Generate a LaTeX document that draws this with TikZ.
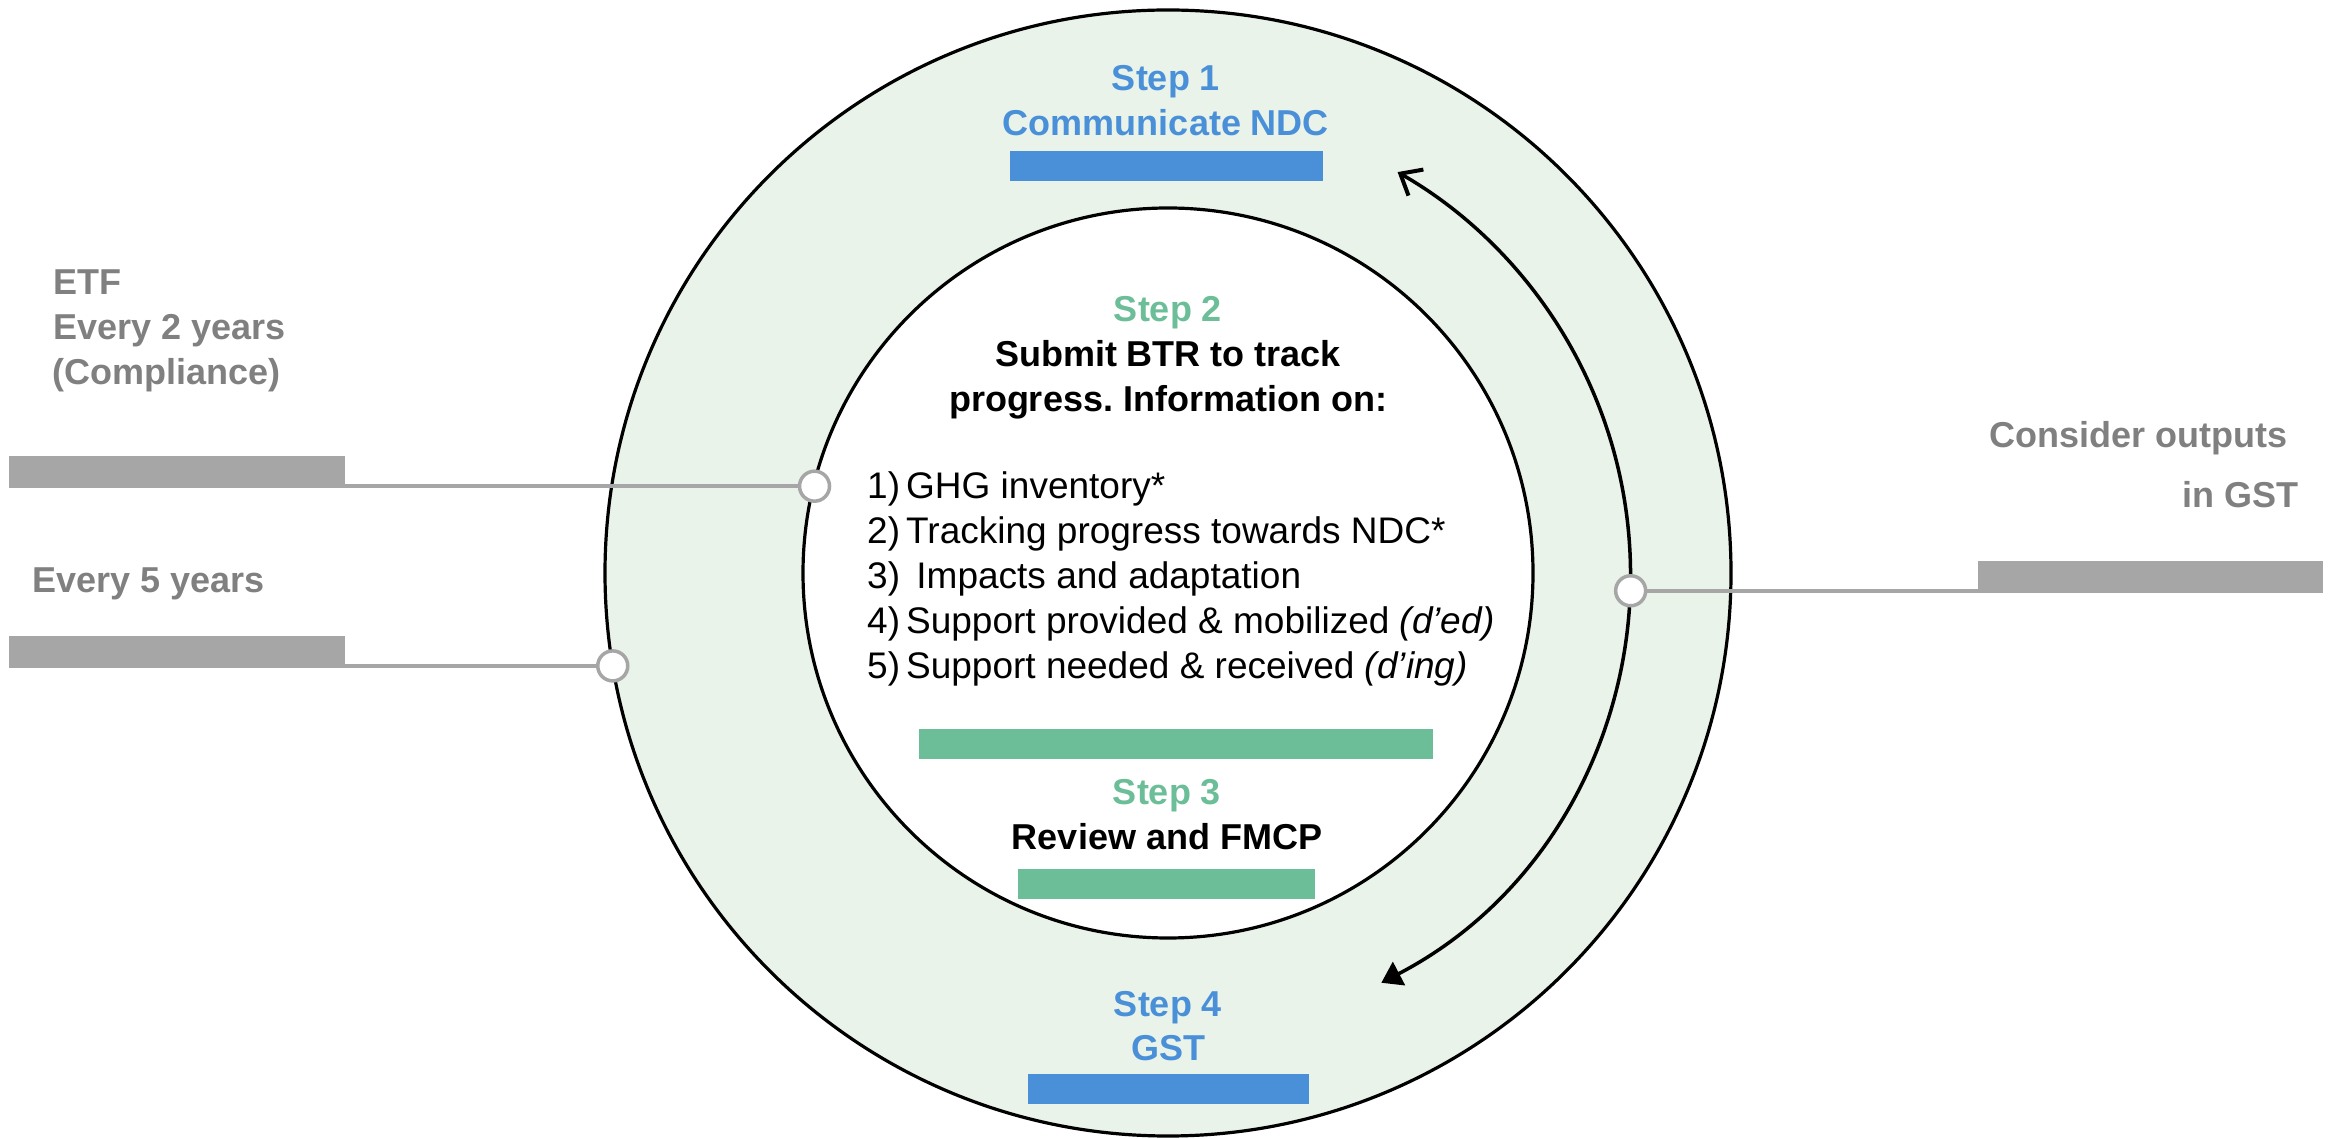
\documentclass[tikz,border=0pt]{standalone}
\usepackage{fontspec}
\setmainfont{Liberation Sans}
\usetikzlibrary{arrows.meta}
\definecolor{ringfill}{HTML}{E9F3EA}
\definecolor{stepblue}{HTML}{4A90D9}
\definecolor{stepgreen}{HTML}{6CBE98}
\definecolor{greytext}{HTML}{808080}
\definecolor{greybar}{HTML}{A6A6A6}
\frenchspacing
\begin{document}
\begin{tikzpicture}[x=1pt,y=1pt,
  bigtxt/.style={font=\fontsize{36}{45}\selectfont\bfseries, inner sep=0pt, anchor=base},
  bluetxt/.style={bigtxt, text=stepblue},
  greentxt/.style={bigtxt, text=stepgreen},
  blacktxt/.style={bigtxt, text=black},
  sidetxt/.style={font=\fontsize{36}{45}\selectfont\bfseries, text=greytext, inner sep=0pt},
  itemtxt/.style={font=\fontsize{37}{45}\selectfont, inner sep=0pt, anchor=base west},
  bar/.style={inner sep=0pt, outer sep=0pt, minimum height=30pt},
  bluebar/.style={bar, fill=stepblue},
  greenbar/.style={bar, fill=stepgreen},
  greybarbox/.style={bar, fill=greybar},
  dot/.style={circle, draw=greybar, fill=white, line width=3.5pt, minimum size=30pt, inner sep=0pt},
  conn/.style={draw=greybar, line width=3.5pt},
  ring/.style={line width=3.2pt, draw=black},
  cyclearrow/.style={line width=3.5pt, {Triangle[length=20pt,width=26pt]}-{Straight Barb[length=18pt,width=30pt,line width=4pt]}}
]
\useasboundingbox (0,0) rectangle (2331,1138);
\coordinate (C) at (1168,565);
\coordinate (L) at (9,0);
\coordinate (R) at (2323,0);

% rings
\fill[ringfill] (C) circle[radius=563];
\draw[ring] (C) circle[radius=563];
\fill[white] (C) circle[radius=365];
\draw[ring] (C) circle[radius=365];

% cycle arrow
\coordinate (abot) at ([shift={(-62.5:462)}]C);
\coordinate (atop) at ([shift={(60.2:462)}]C);
\draw[cyclearrow] (abot) arc[start angle=-62.5, end angle=60.2, radius=462];

% step 1
\node[bluetxt] (s1a) at (1166,1047) {Step 1};
\node[bluetxt] (s1b) at (1166,1002) {Communicate NDC};
\node[bluebar, minimum width=313pt] (bb1) at (1166.5,972) {};

% step 2
\node[greentxt] (s2a) at (1168,816) {Step 2};
\node[blacktxt] (s2b) at (1168,771) {Submit BTR to track};
\node[blacktxt] (s2c) at (1168,726) {progress. Information on:};
\node[itemtxt] (i1) at (867,639) {\makebox[39pt][l]{1)}GHG inventory*};
\node[itemtxt] (i2) at (867,594) {\makebox[39pt][l]{2)}Tracking progress towards NDC*};
\node[itemtxt] (i3) at (867,549) {\makebox[39pt][l]{3)}\ Impacts and adaptation};
\node[itemtxt] (i4) at (867,504) {\makebox[39pt][l]{4)}Support provided \& mobilized \textit{(d’ed)}};
\node[itemtxt] (i5) at (867,459) {\makebox[39pt][l]{5)}Support needed \& received \textit{(d’ing)}};
\node[greenbar, minimum width=514pt] (gb1) at (1176,394) {};

% step 3
\node[greentxt] (s3a) at (1167,333) {Step 3};
\node[blacktxt] (s3b) at (1167,288) {Review and FMCP};
\node[greenbar, minimum width=297pt] (gb2) at (1166.5,254) {};

% step 4
\node[bluetxt] (s4a) at (1168,122) {Step 4};
\node[bluetxt] (s4b) at (1168,78) {GST};
\node[bluebar, minimum width=281pt] (bb2) at (1168.5,49) {};

% side labels
\node[sidetxt, anchor=base west] (etf) at (53,843) {ETF};
\node[sidetxt, anchor=base west] (e2y) at (53,798) {Every 2 years};
\node[sidetxt, anchor=base west] (comp) at (52,753) {(Compliance)};
\node[sidetxt, anchor=base west] (e5y) at (32,545) {Every 5 years};
\node[sidetxt, anchor=base east] (cons) at (2288,690) {Consider outputs};
\node[sidetxt, anchor=base east] (ingst) at (2299,630) {in GST};

% connection dots
\path (C) ++(166.2:364) node[dot] (n1) {};
\path (C) ++(189.5:563) node[dot] (n2) {};
\path (C) ++(-2.2:463) node[dot] (n3) {};

% grey bars
\node[greybarbox, minimum width=336pt, anchor=south west] (g1) at (L |- n1) {};
\node[greybarbox, minimum width=336pt, anchor=south west] (g2) at (L |- n2) {};
\node[greybarbox, minimum width=345pt, anchor=south east] (g3) at (R |- n3) {};

% connectors
\draw[conn] (g1.south west) -- (n1);
\draw[conn] (g2.south west) -- (n2);
\draw[conn] (n3) -- (g3.south east);
\end{tikzpicture}
\end{document}
